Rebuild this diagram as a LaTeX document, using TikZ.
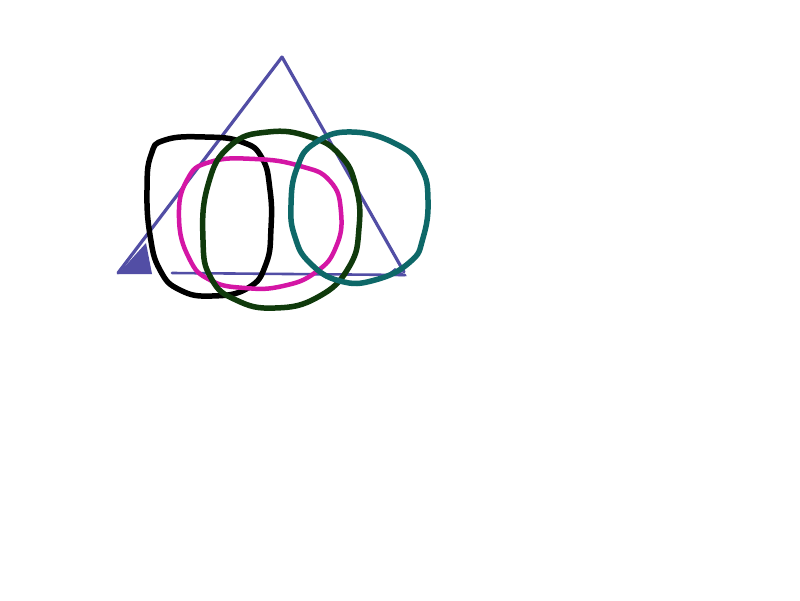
\documentclass[tikz,border=0pt]{standalone}
\begin{document}
\begin{tikzpicture}[x=1pt,y=-1pt,
  loop/.style={line width=5.5pt,line join=round,line cap=round},
  tri/.style={line width=3.2pt,color=triblue,line cap=round,line join=round}]
\definecolor{triblue}{RGB}{82,78,165}
\definecolor{mag}{RGB}{212,22,165}
\definecolor{dgreen}{RGB}{16,58,12}
\definecolor{teal2}{RGB}{14,104,104}
\useasboundingbox[fill=white] (0,0) rectangle (800,600);
% triangle
\draw[tri] (282,57) -- (118,273);
\draw[tri] (282,57) -- (404,272);
\draw[tri,line width=2.6pt] (172,273) -- (405,275);
\fill[triblue] (118,274) -- (146,243) -- (152,274) -- cycle;
\fill[triblue] (395,268) -- (407,276) -- (385,276) -- cycle;
% black loop
\draw[loop,black] plot[smooth cycle,tension=0.8] coordinates {
 (165,140) (205,137) (242,142) (262,158) (270,190) (271,228) (266,264)
 (248,288) (212,296) (180,290) (160,270) (150,235) (147,190) (151,155)};
% magenta loop
\draw[loop,mag,line width=4.5pt] plot[smooth cycle,tension=0.8] coordinates {
 (210,162) (255,159) (300,166) (330,181) (341,212) (336,247) (316,272)
 (283,286) (245,288) (210,280) (189,258) (179,218) (187,180)};
% green loop
\draw[loop,dgreen] plot[smooth cycle,tension=0.8] coordinates {
 (230,146) (268,132) (310,137) (340,155) (356,187) (359,228) (349,267)
 (318,297) (275,308) (236,300) (211,278) (203,240) (208,185)};
% teal loop
\draw[loop,teal2] plot[smooth cycle,tension=0.8] coordinates {
 (315,143) (352,132) (398,145) (421,168) (428,200) (423,238) (410,262)
 (375,280) (340,281) (310,263) (295,237) (291,205) (297,168)};
\end{tikzpicture}
\end{document}
